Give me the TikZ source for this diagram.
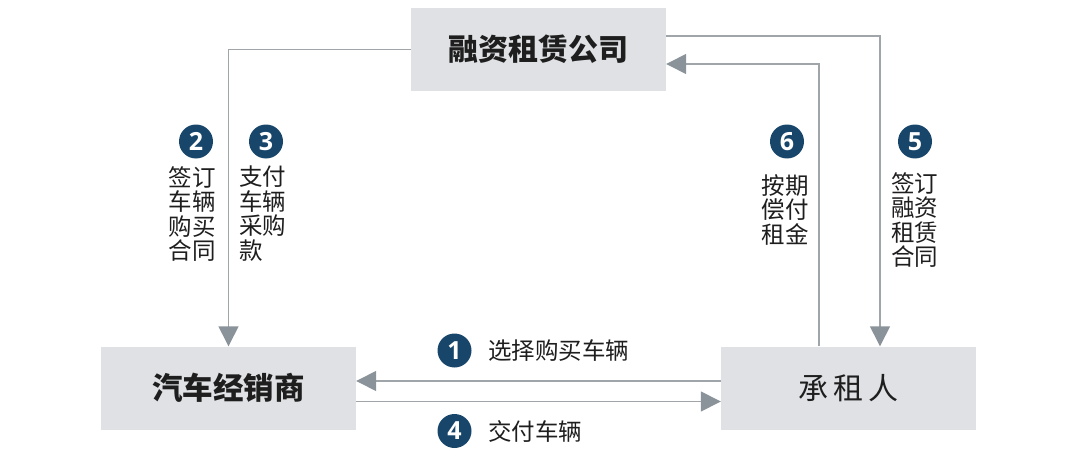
\documentclass[tikz,border=0pt]{standalone}
\usepackage{fontspec}
\usetikzlibrary{arrows.meta}
\newfontfamily\cjk{Noto Sans CJK SC}
\newfontfamily\numfont{Open Sans}
\definecolor{boxgray}{HTML}{DFE1E4}
\definecolor{linegray}{HTML}{A0A5AA}
\definecolor{tipgray}{HTML}{8A929A}
\definecolor{numblue}{HTML}{17466A}
\definecolor{textdark}{HTML}{1E1E1E}
\begin{document}
\begin{tikzpicture}[x=1pt,y=-1pt,font=\cjk,
  box/.style={fill=boxgray,minimum width=255pt,minimum height=83pt,inner sep=0pt,text=textdark},
  num/.style={circle,fill=numblue,text=white,minimum size=34pt,inner sep=0pt,
    font=\numfont\bfseries\fontsize{25}{25}\selectfont},
  lbl/.style={inner sep=0pt,text=textdark,font=\cjk\fontsize{23.5}{24.5}\selectfont},
  link/.style={draw=linegray,line width=1.4pt,-{Triangle[length=20pt,width=20pt,color=tipgray]}}]
\useasboundingbox (0,0) rectangle (1080,460);

% the three parties
\node[box,font=\cjk\bfseries\fontsize{30}{30}\selectfont] (lessor) at (538.5,49.5) {融资租赁公司};
\node[box,font=\cjk\bfseries\fontsize{30.5}{30.5}\selectfont] (dealer) at (228.5,388) {汽车经销商};
\node[box,font=\cjk\fontsize{30}{30}\selectfont] (lessee) at (848.5,388) {承\,租\,人};

% flows
\draw[link] (lessor.west) -| (dealer.north);
\draw[link] ([yshift=13.5pt]lessor.east) -| ([xshift=31.5pt]lessee.north);
\draw[link] ([xshift=-29.5pt]lessee.north) |- ([yshift=-14.5pt]lessor.east);
\draw[link] ([yshift=7pt]lessee.west) -- ([yshift=7pt]dealer.east);
\draw[link] ([yshift=-13.5pt]dealer.east) -- ([yshift=-13.5pt]lessee.west);

% step numbers and texts
\node[num] (n1) at (454.5,350.5) {1};
\node[lbl,anchor=west] (t1) at (488,350.5) {选择购买车辆};
\node[num] (n4) at (454.5,431) {4};
\node[lbl,anchor=west] (t4) at (488,431) {交付车辆};

\node[num] (n2) at (196,141.5) {2};
\node[lbl,align=center,anchor=north] (t2) at (192,166) {签订\\车辆\\购买\\合同};
\node[num] (n3) at (266,141.5) {3};
\node[lbl,align=left,anchor=north west] (t3) at (239,166) {支付\\车辆\\采购\\款};

\node[num] (n6) at (787,141.5) {6};
\node[lbl,align=center,anchor=north] (t6) at (785,174) {按期\\偿付\\租金};
\node[num] (n5) at (915,141.5) {5};
\node[lbl,align=center,anchor=north] (t5) at (914.5,172) {签订\\融资\\租赁\\合同};
\end{tikzpicture}
\end{document}
